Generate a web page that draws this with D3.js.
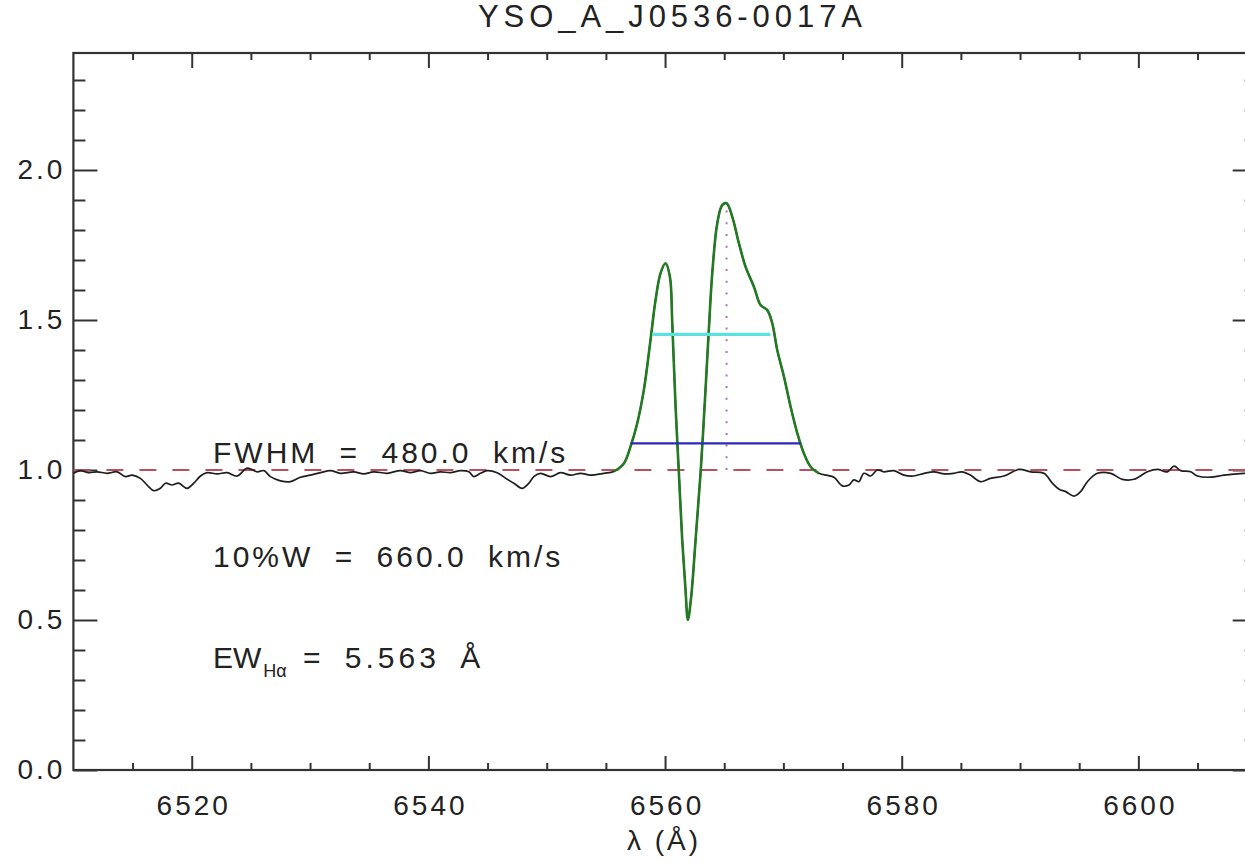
<!DOCTYPE html>
<html>
<head>
<meta charset="utf-8">
<script src="https://cdn.jsdelivr.net/npm/d3@7"></script>
<style>
  body { margin: 0; background: #fff; }
  svg { display: block; }
  text { font-family: "Liberation Sans", Arial, sans-serif; fill: #222; }
</style>
</head>
<body>
<div id="chart"></div>
<script>
// ---- data ----
const TITLE = "YSO_A_J0536-0017A";
const X_DOMAIN = [6510, 6610];
const Y_DOMAIN = [0, 2.39];
const X_MAJOR = [6520, 6540, 6560, 6580, 6600];
const Y_MAJOR = [0, 0.5, 1.0, 1.5, 2.0];

const WAVE = [
  6510.0, 6510.59, 6511.3, 6512.0, 6512.85, 6513.69, 6514.4, 6514.96, 6515.66, 6516.37,
  6516.79, 6517.35, 6517.78, 6518.34, 6518.9, 6519.61, 6520.17, 6520.74, 6521.3, 6522.15,
  6523.0, 6523.84, 6524.68, 6525.53, 6526.1, 6526.65, 6527.5, 6528.34, 6529.19, 6530.03,
  6530.88, 6531.72, 6532.57, 6533.69, 6534.54, 6535.38, 6536.51, 6537.64, 6538.49, 6539.33,
  6540.18, 6541.02, 6541.87, 6542.71, 6543.42, 6543.84, 6544.4, 6544.97, 6545.81, 6546.66,
  6547.22, 6547.93, 6548.49, 6548.91, 6549.48, 6550.32, 6551.17, 6552.01, 6552.86, 6553.7,
  6554.83, 6555.67,
  6556.52, 6557.08, 6557.65, 6558.21, 6558.77, 6559.2, 6559.62, 6560.04, 6560.41, 6560.61,
  6560.89, 6561.17, 6561.45, 6561.73, 6561.93, 6562.21, 6562.58, 6563.0, 6563.42, 6563.7,
  6563.99, 6564.41, 6564.83, 6565.2, 6565.68, 6566.24, 6566.8, 6567.51, 6568.07, 6568.64,
  6569.06, 6569.48, 6570.05, 6570.61, 6571.18, 6571.73, 6572.3, 6573.0,
  6574.27, 6574.98, 6575.54, 6575.96, 6576.38, 6576.8, 6577.37, 6577.94, 6578.5, 6579.34,
  6580.19, 6581.0, 6581.9, 6582.72, 6583.6, 6584.41, 6585.1, 6585.8, 6586.67, 6587.5,
  6588.64, 6589.9, 6590.9, 6592.02, 6592.73, 6593.3, 6593.86, 6594.56, 6595.12, 6595.69,
  6596.53, 6597.66, 6598.64, 6599.63, 6600.76, 6601.61, 6602.45, 6603.02, 6603.58, 6604.42,
  6604.99, 6606.12, 6607.24, 6608.93, 6610.0
];
const FLUX = [
  0.989, 0.998, 0.991, 0.994, 0.989, 0.994, 0.978, 0.983, 0.972, 0.944,
  0.931, 0.939, 0.956, 0.950, 0.956, 0.939, 0.956, 0.980, 0.991, 0.987,
  0.991, 0.980, 1.006, 0.994, 0.998, 0.978, 0.964, 0.961, 0.976, 0.983,
  0.991, 0.998, 0.989, 0.994, 0.987, 0.994, 0.989, 0.998, 0.991, 0.998,
  0.989, 0.994, 0.991, 0.998, 0.994, 0.978, 0.989, 0.998, 0.991, 0.969,
  0.956, 0.939, 0.956, 0.978, 0.989, 0.978, 0.991, 0.983, 0.989, 0.983,
  0.989, 0.995,
  1.022, 1.078, 1.156, 1.267, 1.433, 1.567, 1.656, 1.689, 1.644, 1.489,
  1.211, 0.989, 0.767, 0.600, 0.500, 0.578, 0.767, 0.989, 1.267, 1.467,
  1.656, 1.822, 1.883, 1.889, 1.844, 1.756, 1.678, 1.611, 1.550, 1.533,
  1.489, 1.400, 1.311, 1.211, 1.122, 1.056, 1.011, 0.989,
  0.976, 0.947, 0.950, 0.967, 0.961, 0.989, 0.980, 1.000, 0.994, 0.998,
  0.983, 0.980, 0.989, 0.994, 0.987, 0.989, 0.994, 0.983, 0.961, 0.972,
  0.980, 1.002, 0.994, 0.989, 0.956, 0.936, 0.928, 0.913, 0.928, 0.961,
  0.989, 0.989, 0.969, 0.969, 0.994, 1.002, 0.994, 1.013, 0.998, 0.994,
  0.980, 0.976, 0.983, 0.989, 0.990
];

const LINE_RANGE = [6555.67, 6573.0];   // part of the spectrum drawn in green
const CONTINUUM = 1.0;
const FWHM_EDGES = [6558.9, 6568.9];
const FWHM_LEVEL = 1.452;
const W10_EDGES = [6557.1, 6571.45];
const W10_LEVEL = 1.089;
const PEAK = [6565.2, 1.889];

const FWHM_TEXT = "FWHM = 480.0 km/s";
const W10_TEXT = "10%W = 660.0 km/s";
const EW_VALUE = "5.563 Å";

// ---- layout ----
const width = 1245, height = 861;
const margin = {top: 53, left: 73.4};
const plotW = 1183.3, plotH = 717;

const svg = d3.select("#chart").append("svg")
  .attr("width", width)
  .attr("height", height);

const g = svg.append("g")
  .attr("transform", `translate(${margin.left},${margin.top})`);

const x = d3.scaleLinear().domain(X_DOMAIN).range([0, plotW]);
const y = d3.scaleLinear().domain(Y_DOMAIN).range([plotH, 0]);

const xMinor = d3.range(6515, 6610, 5).filter(v => !X_MAJOR.includes(v));
const yMinor = d3.range(1, 24).map(i => i / 10).filter(v => Math.abs(v * 2 - Math.round(v * 2)) > 1e-6);

function styleAxis(sel) {
  sel.select(".domain").remove();
  sel.selectAll(".tick line").attr("stroke", "#333").attr("stroke-width", 2);
}

// bottom
g.append("g").attr("transform", `translate(0,${plotH})`)
  .call(d3.axisBottom(x).tickValues(xMinor).tickSize(-7).tickFormat(""))
  .call(styleAxis);
const xb = g.append("g").attr("transform", `translate(0,${plotH})`)
  .call(d3.axisBottom(x).tickValues(X_MAJOR).tickSize(-14).tickFormat(d3.format("d")))
  .call(styleAxis);
xb.selectAll("text")
  .attr("y", 45).attr("dy", 0)
  .attr("dx", 1.5)
  .style("font-size", "28px")
  .style("letter-spacing", "3px")
  .style("font-family", "Liberation Sans, Arial, sans-serif")
  .attr("fill", "#222");

// top
g.append("g")
  .call(d3.axisTop(x).tickValues(xMinor).tickSize(-7).tickFormat(""))
  .call(styleAxis);
g.append("g")
  .call(d3.axisTop(x).tickValues(X_MAJOR).tickSize(-15).tickFormat(""))
  .call(styleAxis);

// left
g.append("g")
  .call(d3.axisLeft(y).tickValues(yMinor).tickSize(-12).tickFormat(""))
  .call(styleAxis);
const yl = g.append("g")
  .call(d3.axisLeft(y).tickValues(Y_MAJOR).tickSize(-24).tickFormat(d3.format(".1f")))
  .call(styleAxis);
yl.selectAll("text")
  .attr("x", -8)
  .style("font-size", "28px")
  .style("letter-spacing", "3px")
  .style("font-family", "Liberation Sans, Arial, sans-serif")
  .attr("fill", "#222");

// right
g.append("g").attr("transform", `translate(${plotW},0)`)
  .call(d3.axisRight(y).tickValues(yMinor).tickSize(-12).tickFormat(""))
  .call(styleAxis);
g.append("g").attr("transform", `translate(${plotW},0)`)
  .call(d3.axisRight(y).tickValues(Y_MAJOR).tickSize(-24).tickFormat(""))
  .call(styleAxis);

// frame
g.append("rect")
  .attr("x", 0).attr("y", 0)
  .attr("width", plotW).attr("height", plotH)
  .attr("fill", "none")
  .attr("stroke", "#333")
  .attr("stroke-width", 2.2);

// ---- spectrum ----
const spec = WAVE.map((w, i) => ({w: w, f: FLUX[i]}));
const line = d3.line()
  .x(d => x(d.w))
  .y(d => y(d.f))
  .curve(d3.curveCatmullRom.alpha(0.5));

// continuum reference
g.append("line")
  .attr("x1", x(X_DOMAIN[0])).attr("x2", x(X_DOMAIN[1]))
  .attr("y1", y(CONTINUUM)).attr("y2", y(CONTINUUM))
  .attr("stroke", "#b8505e")
  .attr("stroke-width", 2.2)
  .attr("stroke-dasharray", "17,16");

g.append("path")
  .datum(spec)
  .attr("d", line)
  .attr("fill", "none")
  .attr("stroke", "#1e1e1e")
  .attr("stroke-width", 1.7);

g.append("path")
  .datum(spec.filter(d => d.w >= LINE_RANGE[0] && d.w <= LINE_RANGE[1]))
  .attr("d", line)
  .attr("fill", "none")
  .attr("stroke", "#237a23")
  .attr("stroke-width", 2.6);

// peak marker
g.append("line")
  .attr("x1", x(PEAK[0])).attr("x2", x(PEAK[0]))
  .attr("y1", y(CONTINUUM)).attr("y2", y(PEAK[1]))
  .attr("stroke", "#b070b8")
  .attr("stroke-width", 2)
  .attr("stroke-dasharray", "2,9.7");

// FWHM and 10% width
g.append("line")
  .attr("x1", x(FWHM_EDGES[0])).attr("x2", x(FWHM_EDGES[1]))
  .attr("y1", y(FWHM_LEVEL)).attr("y2", y(FWHM_LEVEL))
  .attr("stroke", "#5ee0e0")
  .attr("stroke-width", 3.2);

g.append("line")
  .attr("x1", x(W10_EDGES[0])).attr("x2", x(W10_EDGES[1]))
  .attr("y1", y(W10_LEVEL)).attr("y2", y(W10_LEVEL))
  .attr("stroke", "#2a2ab8")
  .attr("stroke-width", 2.2);

// ---- texts ----
svg.append("text")
  .attr("x", 478).attr("y", 27)
  .attr("textLength", 384)
  .attr("lengthAdjust", "spacing")
  .style("font-size", "31px")
  .text(TITLE);

svg.append("text")
  .attr("x", 664).attr("y", 850)
  .attr("text-anchor", "middle")
  .style("font-size", "28px")
  .style("letter-spacing", "3px")
  .text("λ (Å)");

const ann = g.append("g").style("font-size", "30px");
const annX = 213 - margin.left;

ann.append("text")
  .attr("x", annX).attr("y", 463 - margin.top)
  .style("letter-spacing", "3px")
  .style("word-spacing", "10px")
  .text(FWHM_TEXT);

ann.append("text")
  .attr("x", annX).attr("y", 567 - margin.top)
  .style("letter-spacing", "3px")
  .style("word-spacing", "10px")
  .text(W10_TEXT);

const ew = ann.append("text")
  .attr("x", annX).attr("y", 668 - margin.top);
ew.append("tspan").text("EW");
ew.append("tspan")
  .attr("dx", 2).attr("dy", 9)
  .style("font-size", "18px")
  .text("Hα");
ew.append("tspan")
  .attr("x", 303 - margin.left).attr("dy", -9)
  .style("letter-spacing", "4px")
  .style("word-spacing", "8px")
  .text("= " + EW_VALUE);
</script>
</body>
</html>
